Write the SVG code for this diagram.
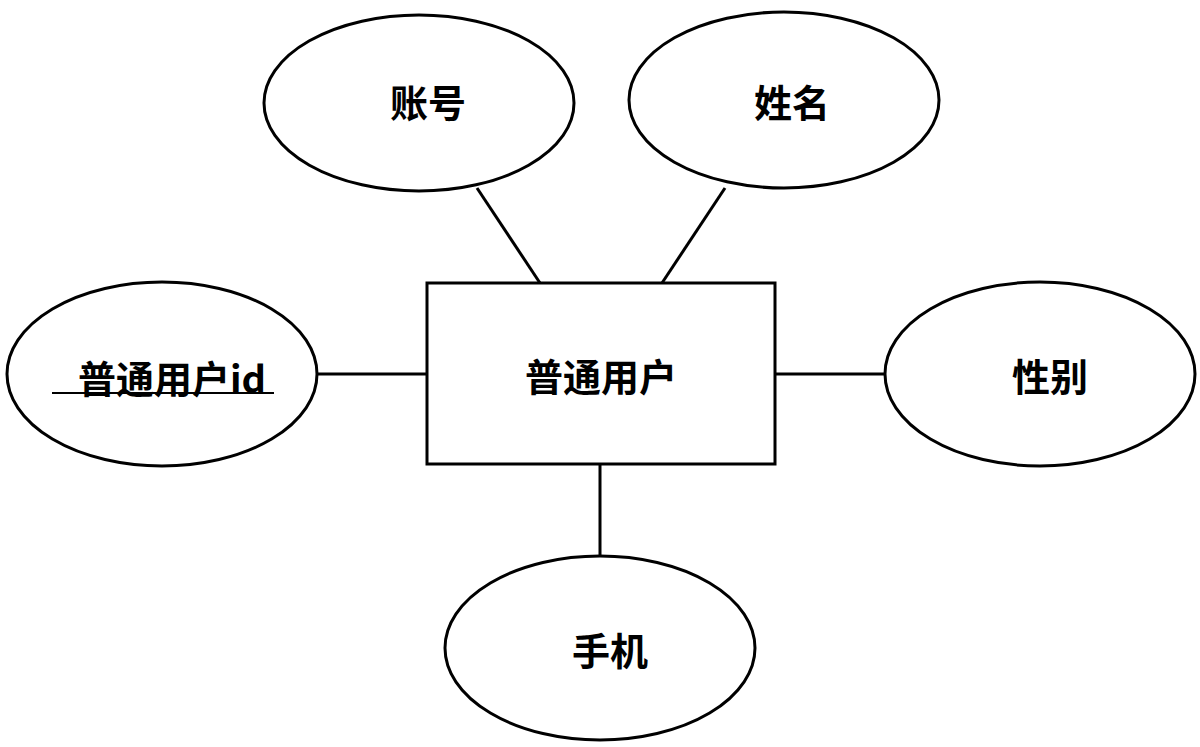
<svg xmlns="http://www.w3.org/2000/svg" width="1200" height="747" viewBox="0 0 1200 747">
<style>
.s{fill:#fff;stroke:#000;stroke-width:3}
.t{font-family:"Noto Sans CJK SC","Liberation Sans",sans-serif;font-size:38px;font-weight:bold;text-anchor:middle;dominant-baseline:central}
line{stroke:#000;stroke-width:3}
</style>
<rect width="1200" height="747" fill="#fff"/>
<g id="connectors">
<line x1="477" y1="188" x2="540" y2="283"/>
<line x1="725" y1="188" x2="662" y2="283"/>
<line x1="317" y1="374" x2="427" y2="374"/>
<line x1="775" y1="374" x2="885" y2="374"/>
<line x1="600" y1="464" x2="600" y2="556"/>
</g>
<g id="user"><rect class="s" x="427" y="283" width="348" height="181"/><text class="t" x="601" y="374">普通用户</text></g>
<g id="account"><ellipse class="s" cx="419" cy="103" rx="155" ry="88"/><text class="t" x="428" y="100">账号</text></g>
<g id="name"><ellipse class="s" cx="784" cy="100" rx="155" ry="88"/><text class="t" x="792" y="100">姓名</text></g>
<g id="uid"><ellipse class="s" cx="162" cy="374" rx="155" ry="92"/><text class="t" x="172" y="376">普通用户id</text><line x1="52" y1="393" x2="274" y2="393" style="stroke-width:2"/></g>
<g id="gender"><ellipse class="s" cx="1040" cy="374" rx="155" ry="92"/><text class="t" x="1050" y="374">性别</text></g>
<g id="phone"><ellipse class="s" cx="600" cy="648" rx="155" ry="92"/><text class="t" x="610" y="648">手机</text></g>
</svg>
